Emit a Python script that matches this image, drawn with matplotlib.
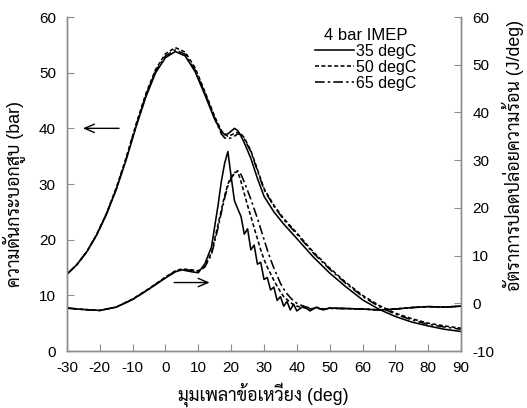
import matplotlib
matplotlib.use('Agg')
import matplotlib.pyplot as plt

plt.rcParams['font.family'] = ['Liberation Sans', 'Sarabun', 'Noto Sans Thai Looped',
                               'Noto Sans Thai', 'DejaVu Sans']
plt.rcParams['axes.unicode_minus'] = False

# crank angle (deg) for cylinder pressure
p_deg = [-30, -27, -24, -21, -18, -15, -12, -9, -6, -3, 0, 3, 6, 9, 12, 15, 17,
         18, 19, 20, 21, 22, 23, 24, 26, 28, 30, 33, 36, 40, 45, 50, 55, 60, 65,
         70, 75, 80, 85, 90]
# cylinder pressure (bar)
p_35 = [13.8, 15.5, 17.8, 20.8, 24.5, 29.0, 34.3, 40.2, 45.6, 50.0, 52.7, 53.8,
        53.0, 50.2, 46.0, 41.6, 39.4, 38.9, 39.0, 39.5, 40.0, 39.6, 38.6, 37.4,
        34.6, 31.0, 27.8, 25.0, 22.8, 20.2, 16.9, 14.0, 11.5, 9.2, 7.5, 6.2,
        5.2, 4.5, 3.9, 3.5]
p_50 = [13.8, 15.5, 17.8, 20.9, 24.7, 29.3, 34.7, 40.7, 46.2, 50.6, 53.4, 54.5,
        53.7, 50.9, 46.6, 42.1, 39.6, 38.9, 38.6, 38.8, 39.1, 39.3, 39.0, 38.3,
        36.0, 32.6, 29.2, 26.2, 23.8, 21.2, 17.8, 14.9, 12.3, 10.0, 8.2, 6.8,
        5.8, 5.0, 4.5, 4.1]
p_65 = [13.8, 15.5, 17.8, 20.8, 24.6, 29.1, 34.5, 40.4, 45.9, 50.3, 53.0, 54.1,
        53.3, 50.5, 46.3, 41.8, 39.0, 38.3, 38.1, 38.3, 38.6, 39.0, 38.9, 38.1,
        35.8, 32.4, 29.0, 26.0, 23.6, 21.0, 17.6, 14.7, 12.1, 9.8, 8.0, 6.6,
        5.6, 4.8, 4.3, 3.9]

# crank angle (deg) for heat release rate
h_deg = [-30, -25, -20, -15, -10, -5, 0, 3, 5, 8, 10, 12, 14, 16, 17, 18, 19, 20,
         21, 22, 23, 24, 25, 26, 27, 28, 29, 30, 31, 32, 33, 34, 35, 36, 37, 38,
         39, 40, 42, 44, 46, 48, 50, 55, 60, 65, 70, 75, 80, 85, 90]
# heat release rate (J/deg)
h_35 = [-1.0, -1.3, -1.5, -0.8, 0.8, 3.0, 5.3, 6.6, 7.0, 6.6, 6.4, 8.3, 11.8,
        20.5, 25.5, 29.3, 31.8, 26.5, 21.5, 19.8, 18.2, 14.5, 15.6, 11.2, 12.2,
        8.2, 8.6, 5.0, 5.4, 2.8, 3.4, 0.6, 1.4, -0.6, 0.4, -1.4, -0.2, -1.6,
        -0.6, -1.6, -0.8, -1.4, -1.0, -1.1, -1.2, -1.4, -1.2, -0.9, -0.7, -0.8,
        -0.6]
h_50 = [-1.0, -1.3, -1.5, -0.8, 0.9, 3.1, 5.5, 6.8, 7.2, 7.0, 6.8, 7.8, 10.6,
        16.5, 19.5, 22.5, 25.0, 26.5, 27.4, 27.6, 25.5, 23.0, 20.5, 18.2, 15.8,
        13.5, 11.2, 9.2, 7.6, 6.2, 4.8, 3.6, 2.4, 1.4, 0.8, 0.2, -0.3, -0.6,
        -0.9, -1.2, -0.9, -1.2, -1.0, -1.1, -1.2, -1.4, -1.2, -0.9, -0.7, -0.8,
        -0.6]
h_65 = [-1.0, -1.3, -1.5, -0.8, 0.8, 3.0, 5.4, 6.7, 7.1, 6.9, 6.7, 7.6, 10.2,
        15.8, 19.0, 22.0, 24.6, 26.2, 27.2, 27.8, 27.0, 25.4, 23.6, 21.8, 19.8,
        17.8, 15.6, 13.4, 11.2, 9.2, 7.4, 5.8, 4.2, 3.0, 2.0, 1.2, 0.5, 0.0,
        -0.6, -1.0, -1.1, -1.2, -1.1, -1.1, -1.2, -1.4, -1.2, -0.9, -0.7, -0.8,
        -0.6]

labels = ['35 degC', '50 degC', '65 degC']
styles = ['-', (0, (2.5, 1.5)), (0, (6, 2, 1.5, 2))]

fig = plt.figure(figsize=(5.27, 4.08), dpi=100)
ax = fig.add_axes([0.1271, 0.1397, 0.7477, 0.8186])
ax2 = ax.twinx()

handles = []
for pv, hv, ls, lab in zip([p_35, p_50, p_65], [h_35, h_50, h_65], styles, labels):
    ln, = ax.plot(p_deg, pv, color='black', linestyle=ls, linewidth=1.15, label=lab)
    ax2.plot(h_deg, hv, color='black', linestyle=ls, linewidth=1.15)
    handles.append(ln)

ax.set_xlim(-30, 90)
ax.set_ylim(0, 60)
ax2.set_ylim(-10, 60)
ax.set_xticks(range(-30, 91, 10))
ax.set_yticks(range(0, 61, 10))
ax2.set_yticks(range(-10, 61, 10))

for a in (ax, ax2):
    a.spines['top'].set_visible(False)
    for s in ('left', 'right', 'bottom'):
        a.spines[s].set_color('#8c8c8c')
        a.spines[s].set_linewidth(1.0)
    a.tick_params(direction='in', length=5, color='#8c8c8c', labelsize=11,
                  pad=8)
ax.tick_params(axis='x', pad=7)

# arrows pointing to each axis
ax.annotate('', xy=(-26, 40), xytext=(-13.3, 40),
            arrowprops=dict(arrowstyle='->,head_length=0.7,head_width=0.3',
                            color='black', lw=1.0))
ax.annotate('', xy=(14.3, 12.3), xytext=(1.8, 12.3),
            arrowprops=dict(arrowstyle='->,head_length=0.7,head_width=0.3',
                            color='black', lw=1.0))

ax.set_xlabel('มุมเพลาข้อเหวี่ยง (deg)', fontsize=12.8)
ax.set_ylabel('ความดันกระบอกสูบ (bar)', fontsize=12.8)
ax2.set_ylabel('อัตราการปลดปล่อยความร้อน (J/deg)', fontsize=12.8)
for lab in (ax.xaxis.label, ax.yaxis.label, ax2.yaxis.label):
    lab.set_verticalalignment('center')
ax.xaxis.set_label_coords(0.499, -0.132)
ax.yaxis.set_label_coords(-0.1345, 0.47)
ax2.yaxis.set_label_coords(1.132, 0.587)

leg = ax2.legend(handles=handles, labels=labels, title='4 bar IMEP',
                 loc='upper right', bbox_to_anchor=(0.915, 1.0), frameon=False,
                 fontsize=11.5, title_fontsize=12, handlelength=2.4,
                 handletextpad=0.15, labelspacing=0.05, borderpad=0.2)

fig.savefig('out.png', dpi=100)
